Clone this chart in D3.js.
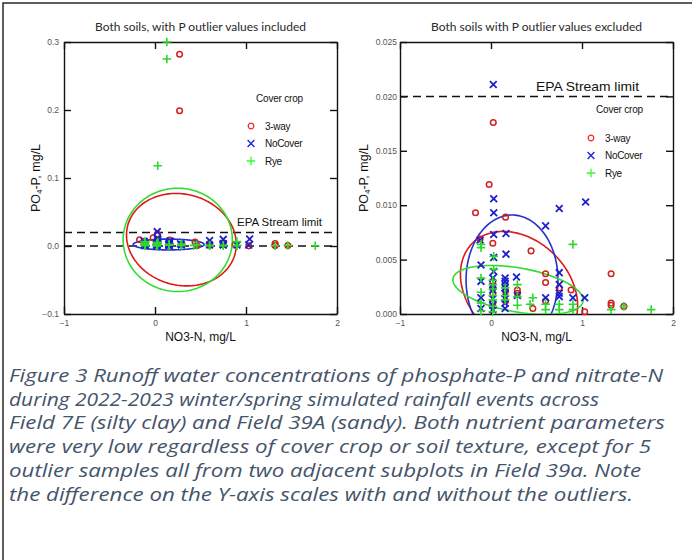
<!DOCTYPE html>
<html><head><meta charset="utf-8">
<script src="https://cdn.jsdelivr.net/npm/d3@7"></script>
<style>body{margin:0;background:#fff}</style>
</head><body>
<svg id="c" width="692" height="560" xmlns="http://www.w3.org/2000/svg"></svg>
<script>
// ---------- data ----------
const xTicks = [-1, 0, 1, 2];
const leftYTicks = [-0.1, 0, 0.1, 0.2, 0.3];
const rightYTicks = [0, 0.005, 0.010, 0.015, 0.020, 0.025];
const epaLimit = 0.02;
const seriesNames = ["3-way", "NoCover", "Rye"];
const titles = ["Both soils, with P outlier values included", "Both soils with P outlier values excluded"];

// [NO3-N mg/L, PO4-P mg/L]
const threeWay = [
  [0.025,0.0176],[-0.02,0.0119],[-0.17,0.0093],[0.16,0.0089],[-0.12,0.0069],[0.02,0.0065],
  [0.44,0.0058],[0.60,0.0037],[1.32,0.0037],[0.60,0.0029],[0.29,0.0022],[0.29,0.0019],
  [0.88,0.0022],[0.75,0.0024],[0.16,0.0021],[0.16,0.0012],[0.02,0.0030],[0.02,0.0024],
  [0.02,0.0018],[0.02,0.0010],[0.46,0.0005],[0.60,0.0012],[1.03,0.0002],[1.32,0.0010],
  [1.32,0.0008],[1.46,0.0007]
];
const threeWayOutliers = [[0.27,0.282],[0.27,0.199]];
const noCover = [
  [0.025,0.0211],[0.03,0.0106],[0.03,0.0093],[0.75,0.0097],[1.04,0.0103],[0.60,0.0081],
  [0.03,0.0073],[0.165,0.0074],[-0.12,0.0068],[0.165,0.0055],[0.03,0.0052],[-0.11,0.0045],
  [0.03,0.0039],[0.75,0.0038],[0.28,0.0034],[-0.11,0.0030],
  [0.155,0.0033],[0.155,0.0030],[0.155,0.0027],[0.155,0.0024],[0.155,0.0019],[0.155,0.0014],
  [0.155,0.0010],[0.155,0.0005],
  [0.02,0.0033],[0.02,0.0025],[0.02,0.0022],[0.02,0.0014],[0.02,0.0008],[0.02,0.0004],
  [0.75,0.0027],[0.75,0.0019],[0.75,0.0016],[0.60,0.0015],[0.90,0.0015],[1.03,0.0015],
  [-0.11,0.0015],[-0.11,0.0005],[0.29,0.0017]
];
const rye = [
  [-0.11,0.0064],[-0.11,0.0061],[0.90,0.0064],[0.03,0.0053],[0.03,0.0041],[-0.11,0.0033],
  [0.29,0.0027],[0.29,0.0016],[0.29,0.0008],[0.155,0.0024],[0.155,0.0017],[0.155,0.0013],
  [0.02,0.0031],[0.02,0.0027],[0.02,0.0023],[0.02,0.0017],[0.02,0.0013],[0.02,0.0007],[0.02,0.0002],
  [0.46,0.0015],[0.43,0.0009],[0.60,0.0009],[0.60,0.0004],[0.75,0.0009],[0.75,0.0004],
  [0.90,0.0009],[0.90,0.0004],[1.32,0.0004],[1.46,0.0007],[1.76,0.0004],
  [-0.11,0.0020],[-0.11,0.0010],[-0.11,0.0003]
];
const ryeOutliers = [[0.13,0.300],[0.13,0.275],[0.03,0.118]];

// ellipses: centre (cx,cy) and two conjugate semi-axis vectors u, v, all in data units
const ellipsesIncluded = [
  {s:"3-way",   cx:0.29, cy:0.0093, ux:0.60, uy:0,       vx:-0.06,  vy:0.068},
  {s:"Rye",     cx:0.25, cy:0.009,  ux:0.60, uy:0,       vx:0,      vy:0.076},
  {s:"NoCover", cx:0.15, cy:0.0022, ux:0.39, uy:0,       vx:0,      vy:0.008}
];
const ellipsesExcluded = [
  {s:"3-way",   cx:0.308, cy:0.00221, ux:0.513, uy:-0.00429, vx:-0.389, vy:-0.00325},
  {s:"NoCover", cx:0.231, cy:0.00313, ux:0.505, uy:0,        vx:0,      vy:0.00597},
  {s:"Rye",     cx:0.297, cy:0.00221, ux:0.714, uy:-0.00105, vx:-0.042, vy:-0.00199}
];

const captionLines = [
  "Figure 3 Runoff water concentrations of phosphate-P and nitrate-N",
  "during 2022-2023 winter/spring simulated rainfall events across",
  "Field 7E (silty clay) and Field 39A (sandy). Both nutrient parameters",
  "were very low regardless of cover crop or soil texture, except for 5",
  "outlier samples all from two adjacent subplots in Field 39a. Note",
  "the difference on the Y-axis scales with and without the outliers."
];

// ---------- styling ----------
const markerColor = {"3-way":"#d42020","NoCover":"#1f1fcc","Rye":"#2ed82e"};
const ellipseColor = {"3-way":"#e01818","NoCover":"#2233cc","Rye":"#30dc30"};
const svg = d3.select("#c");
const sans = "'Liberation Sans', Arial, sans-serif";

// outer frame
svg.append("rect").attr("x",3).attr("y",3).attr("width",720).attr("height",600)
  .attr("fill","none").attr("stroke","#1a1a1a").attr("stroke-width",1.4);

function marker(g, s, col, legend) {
  const k = legend ? 0.8 : 1;
  if (s === "3-way") {
    g.append("circle").attr("r",2.8).attr("fill","none").attr("stroke",col).attr("stroke-width",1.5*k);
  } else if (s === "NoCover") {
    g.append("path").attr("d","M-3.4,-3.4L3.4,3.4M-3.4,3.4L3.4,-3.4").attr("stroke",col).attr("stroke-width",1.8*k);
  } else {
    g.append("path").attr("d","M-4.3,0H4.3M0,-4.3V4.3").attr("stroke",col).attr("stroke-width",1.6*k);
  }
}

function panel(cfg) {
  const x = d3.scaleLinear().domain([-1,2]).range([cfg.left, cfg.right]);
  const y = d3.scaleLinear().domain(cfg.ydom).range([cfg.bottom, cfg.top]);
  const g = svg.append("g");
  const clipId = "clip" + cfg.id;
  svg.append("clipPath").attr("id",clipId).append("rect")
    .attr("x",cfg.left).attr("y",cfg.top).attr("width",cfg.right-cfg.left).attr("height",cfg.bottom-cfg.top);

  // title
  g.append("text").attr("x",(cfg.left+cfg.right)/2).attr("y",31).attr("text-anchor","middle")
    .attr("font-family","Lato, 'Open Sans', sans-serif").attr("font-size",10.5).attr("fill","#2a2a2a")
    .attr("textLength",211).attr("lengthAdjust","spacingAndGlyphs").text(cfg.title);

  // axes
  const fmt = d3.format(cfg.yfmt);
  const ax = (sel) => sel.call(s => s.selectAll(".domain").attr("stroke","#111").attr("stroke-width",1.4))
    .call(s => s.selectAll(".tick line").attr("stroke","#111").attr("stroke-width",1.4))
    .call(s => s.selectAll(".tick text").attr("fill","#555").attr("font-family",sans).attr("font-size",8.5));
  g.append("g").attr("transform",`translate(0,${cfg.bottom})`)
    .call(d3.axisBottom(x).tickValues(xTicks).tickSize(-7).tickSizeOuter(0).tickPadding(6).tickFormat(d3.format("d"))).call(ax);
  g.append("g").attr("transform",`translate(0,${cfg.top})`)
    .call(d3.axisTop(x).tickValues(xTicks).tickSize(-7).tickSizeOuter(0).tickFormat("")).call(ax);
  g.append("g").attr("transform",`translate(${cfg.left},0)`)
    .call(d3.axisLeft(y).tickValues(cfg.yticks).tickSize(-7).tickSizeOuter(0).tickPadding(cfg.ypad).tickFormat(fmt)).call(ax);
  g.append("g").attr("transform",`translate(${cfg.right},0)`)
    .call(d3.axisRight(y).tickValues(cfg.yticks).tickSize(-7).tickSizeOuter(0).tickFormat("")).call(ax);

  // axis labels
  g.append("text").attr("x",(cfg.left+cfg.right)/2).attr("y",341).attr("text-anchor","middle")
    .attr("font-family",sans).attr("font-size",12).attr("fill","#111").text("NO3-N, mg/L");
  const yl = g.append("text").attr("transform",`translate(${cfg.ylabX},${(cfg.top+cfg.bottom)/2}) rotate(-90)`)
    .attr("text-anchor","middle").attr("font-family",sans).attr("font-size",12.5).attr("fill","#111");
  yl.append("tspan").text("PO");
  yl.append("tspan").attr("font-size",8).attr("dy",2).text("4");
  yl.append("tspan").attr("dy",-2).text("-P, mg/L");

  // EPA limit lines
  cfg.dashes.forEach(v => {
    g.append("line").attr("x1",cfg.left).attr("x2",cfg.right).attr("y1",y(v)).attr("y2",y(v))
      .attr("stroke","#111").attr("stroke-width",1.5).attr("stroke-dasharray","8,5");
  });
  g.append("text").attr("x",cfg.epaX).attr("y",y(epaLimit)-cfg.epaDy).attr("font-family",sans)
    .attr("font-size",cfg.epaSize).attr("fill","#111").attr("textLength",cfg.epaLen)
    .attr("lengthAdjust","spacingAndGlyphs").text("EPA Stream limit");

  // ellipses
  const ts = d3.range(0, 2*Math.PI, Math.PI/90);
  const eline = d3.line().curve(d3.curveLinearClosed);
  const eg = g.append("g").attr("clip-path",`url(#${clipId})`);
  cfg.ellipses.forEach(e => {
    const pts = ts.map(t => [x(e.cx + e.ux*Math.cos(t) + e.vx*Math.sin(t)), y(e.cy + e.uy*Math.cos(t) + e.vy*Math.sin(t))]);
    eg.append("path").attr("d",eline(pts)).attr("fill","none").attr("stroke",ellipseColor[e.s]).attr("stroke-width",1.6);
  });

  // points
  const sets = [["3-way",cfg.data[0]],["NoCover",cfg.data[1]],["Rye",cfg.data[2]]];
  sets.forEach(([s,arr]) => {
    arr.forEach(d => {
      const m = g.append("g").attr("transform",`translate(${x(d[0])},${y(d[1])})`);
      marker(m, s, markerColor[s], false);
    });
  });

  // legend
  const lg = g.append("g");
  lg.append("text").attr("x",cfg.legX+5).attr("y",cfg.legY).attr("font-family",sans).attr("font-size",10)
    .attr("fill","#111").attr("letter-spacing",-0.2).text("Cover crop");
  seriesNames.forEach((s,i) => {
    const yy = cfg.legY + cfg.legDy0 + i*cfg.legStep;
    const m = lg.append("g").attr("transform",`translate(${cfg.legX},${yy-3.5})`);
    marker(m, s, d3.color(markerColor[s]).brighter(0.4), true);
    lg.append("text").attr("x",cfg.legX+14).attr("y",yy).attr("font-family",sans).attr("font-size",10)
      .attr("fill","#111").attr("letter-spacing",-0.3).text(s);
  });
}

panel({id:"L", left:64, right:337, top:42, bottom:314, ydom:[-0.1,0.3], yticks:leftYTicks, yfmt:".1f",
  ypad:5, ylabX:40, title:titles[0], dashes:[epaLimit,0], epaX:237, epaDy:6, epaSize:11, epaLen:85,
  ellipses:ellipsesIncluded,
  data:[threeWay.concat(threeWayOutliers), noCover, rye.concat(ryeOutliers)],
  legX:251, legY:102, legDy0:27.5, legStep:17.5});
panel({id:"R", left:400, right:673, top:42, bottom:314, ydom:[0,0.025], yticks:rightYTicks, yfmt:".3f",
  ypad:3, ylabX:368, title:titles[1], dashes:[epaLimit], epaX:536, epaDy:5, epaSize:13.5, epaLen:103,
  ellipses:ellipsesExcluded,
  data:[threeWay, noCover, rye],
  legX:591, legY:113, legDy0:28.5, legStep:17.5});

// caption
const capW = [654, 590, 656, 642, 632, 624];
captionLines.forEach((t,i) => {
  svg.append("text").attr("x",9).attr("y",382 + i*23.7)
    .attr("font-family","'Open Sans', sans-serif").attr("font-style","italic").attr("font-size",18.5)
    .attr("fill","#44546a").attr("textLength",capW[i]).attr("lengthAdjust","spacingAndGlyphs").text(t);
});
</script>
</body></html>
